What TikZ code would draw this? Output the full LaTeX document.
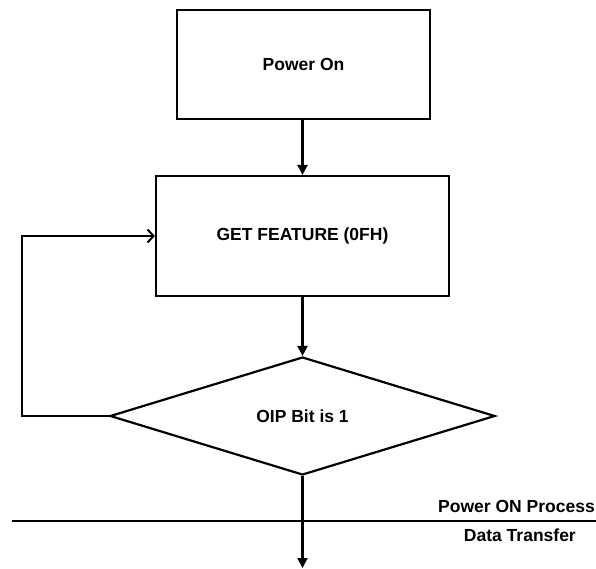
\documentclass[tikz,border=0pt]{standalone}
\usepackage{fontspec}
\setmainfont{Liberation Sans}
\usetikzlibrary{shapes.geometric,arrows.meta}

\tikzset{
  every node/.style={font=\fontsize{17.5bp}{20bp}\selectfont\bfseries},
  box/.style={draw, line width=2.2bp, rectangle, inner sep=0pt},
  decision/.style={draw, line width=2.2bp, diamond, inner sep=0pt},
  flow/.style={line width=2.2bp, -{Triangle[length=10bp,width=10bp]}},
  back/.style={line width=2.2bp, -{Straight Barb[length=6bp,width=13bp,line width=2bp]}},
  divider/.style={line width=2.2bp},
  caption/.style={anchor=east, inner sep=0pt}
}

\begin{document}
\begin{tikzpicture}[x=1bp, y=-1bp]
  \useasboundingbox (0,0) rectangle (596,569);

  % process steps
  \node[box, minimum width=253bp, minimum height=109bp] (pon) at (303.5,64.5) {Power On};
  \node[box, minimum width=293bp, minimum height=120bp] (gf) at (302.5,236) {GET FEATURE (0FH)};
  \node[decision, minimum width=385bp, minimum height=118bp] (dia) at (302.5,416) {OIP Bit is 1};

  % helper points
  \coordinate (lp) at (22,416);
  \coordinate (out) at (302.5,568);
  \coordinate (l1) at (12,521);
  \coordinate (l2) at (596,521);

  % connectors
  \draw[flow] (pon.south -| gf.north) -- (gf.north);
  \draw[flow] (gf.south) -- (dia.north);
  \draw[back] (dia.west) -- (lp) |- (gf.west);
  \draw[flow] (dia.south) -- (out);

  % phase boundary
  \draw[divider] (l1) -- (l2);
  \node[caption] (phase1) at (595,506) {Power ON Process};
  \node[caption] (phase2) at (576,535) {Data Transfer};
\end{tikzpicture}
\end{document}
